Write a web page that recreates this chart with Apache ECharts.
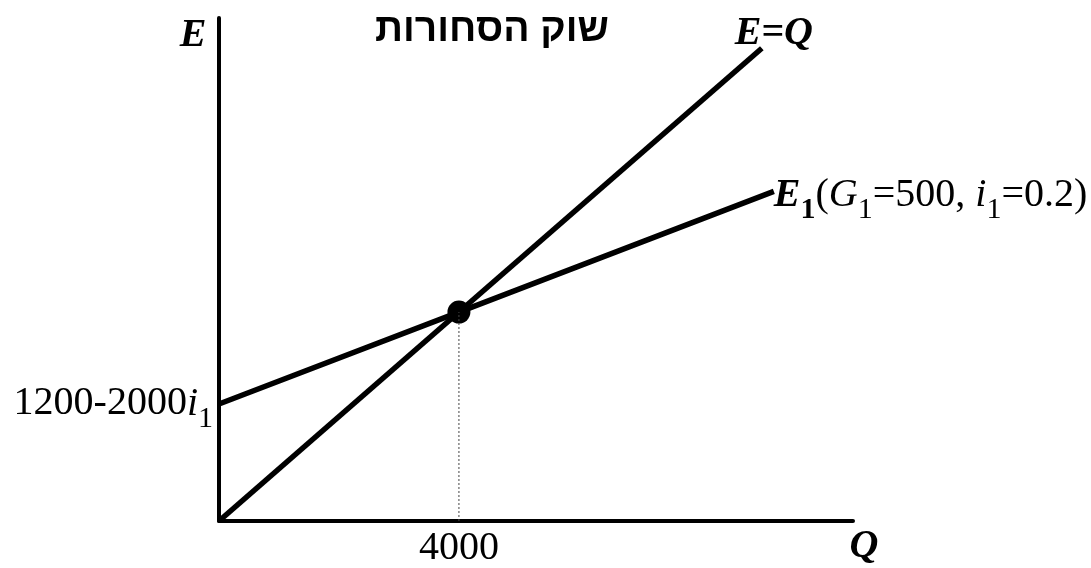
<!DOCTYPE html>
<html><head><meta charset="utf-8">
<script src="https://cdn.jsdelivr.net/npm/echarts@6/dist/echarts.min.js"></script>
<style>html,body{margin:0;padding:0;background:#fff}#c{width:1091px;height:568px}</style>
</head><body><div id="c"></div>
<script>
// ---- data ----
const chartTitle = 'שוק הסחורות';
const xName = 'Q';
const yName = 'E';
const qTicks = [4000];
const qTickLabels = ['4000'];
const eTicks = [2240];
const eTickLabels = ['{a|1200-2000}{i|i}{s|1}'];
const xMax = 10570;
const yMax = 9630;
const eqQ = [0, 9050];          // E = Q line
const eqE = [0, 9050];
const e1Q = [0, 4000, 9250];    // E1 line
const e1E = [2240, 4000, 6310];
const eqmQ = [4000];            // equilibrium point
const eqmE = [4000];
const eqLabel = 'E=Q';
const e1Label = '{e|E}{eb|1}{r|(}{it|G}{s|1}{r|=500, }{it|i}{s|1}{r|=0.2)}';

const SERIF = '"Liberation Serif","Times New Roman",serif';
const SANS = '"Liberation Sans","DejaVu Sans",Arial,sans-serif';
const FS = 40, SUB = 30;
const richBase = {
  a: {fontFamily: SERIF, fontSize: FS, lineHeight: 60, verticalAlign: 'middle', color: '#000'},
  r: {fontFamily: SERIF, fontSize: FS, lineHeight: 60, verticalAlign: 'middle', color: '#000'},
  i: {fontFamily: SERIF, fontSize: FS, fontStyle: 'italic', lineHeight: 60, verticalAlign: 'middle', color: '#000'},
  it: {fontFamily: SERIF, fontSize: FS, fontStyle: 'italic', lineHeight: 60, verticalAlign: 'middle', color: '#000'},
  e: {fontFamily: SERIF, fontSize: FS, fontStyle: 'italic', fontWeight: 'bold', lineHeight: 60, verticalAlign: 'middle', color: '#000'},
  s: {fontFamily: SERIF, fontSize: SUB, lineHeight: 29, verticalAlign: 'bottom', color: '#000'},
  eb: {fontFamily: SERIF, fontSize: SUB, fontWeight: 'bold', lineHeight: 29, verticalAlign: 'bottom', color: '#000'}
};

const chart = echarts.init(document.getElementById('c'), null, {renderer: 'canvas'});
chart.setOption({
  animation: false,
  backgroundColor: '#fff',
  grid: {left: 219, top: 18, width: 634, height: 503, containLabel: false, outerBoundsMode: 'none'},
  xAxis: {
    type: 'value', min: 0, max: xMax,
    axisLine: {show: true, onZero: false, lineStyle: {color: '#000', width: 4}},
    axisTick: {show: false},
    splitLine: {show: false},
    axisLabel: {
      customValues: qTicks,
      formatter: v => qTickLabels[qTicks.indexOf(v)] || '',
      fontFamily: SERIF, fontSize: FS, color: '#000', margin: 7, lineHeight: 40
    }
  },
  yAxis: {
    type: 'value', min: 0, max: yMax,
    axisLine: {show: true, onZero: false, lineStyle: {color: '#000', width: 4}},
    axisTick: {show: false},
    splitLine: {show: false},
    axisLabel: {
      customValues: eTicks,
      formatter: v => eTickLabels[eTicks.indexOf(v)] || '',
      margin: 6,
      rich: richBase
    }
  },
  graphic: [
    {type: 'text', style: {text: chartTitle, x: 492, y: 30, align: 'center', verticalAlign: 'middle', font: 'bold 39px ' + SANS, fill: '#000'}},
    {type: 'text', style: {text: yName, x: 193, y: 36, align: 'center', verticalAlign: 'middle', font: 'italic bold 40px ' + SERIF, fill: '#000'}},
    {type: 'text', style: {text: xName, x: 864, y: 547, align: 'center', verticalAlign: 'middle', font: 'italic bold 40px ' + SERIF, fill: '#000'}}
  ],
  series: [
    {
      type: 'line', data: eqQ.map((q, i) => [q, eqE[i]]),
      showSymbol: false, symbol: 'none', silent: true,
      lineStyle: {color: '#000', width: 5.5, cap: 'butt'},
      endLabel: {show: true, formatter: eqLabel, fontFamily: SERIF, fontSize: FS, fontWeight: 'bold', fontStyle: 'italic', color: '#000',
        align: 'center', verticalAlign: 'middle', distance: 0, offset: [12, -15]}
    },
    {
      type: 'line', data: e1Q.map((q, i) => [q, e1E[i]]),
      showSymbol: false, symbol: 'none', silent: true,
      lineStyle: {color: '#000', width: 5.5, cap: 'butt'},
      endLabel: {show: true, formatter: e1Label, rich: richBase, align: 'left', verticalAlign: 'middle', distance: 0, offset: [0, 4]}
    },
    {
      type: 'line', data: [[eqmQ[0], 0], [eqmQ[0], eqmE[0]]],
      showSymbol: false, symbol: 'none', silent: true,
      lineStyle: {color: '#444', width: 1, type: [2, 2]}
    },
    {
      type: 'scatter', data: eqmQ.map((q, i) => [q, eqmE[i]]),
      symbol: 'circle', symbolSize: 23, silent: true,
      itemStyle: {color: '#000', opacity: 1}
    }
  ]
});
</script>
</body></html>
